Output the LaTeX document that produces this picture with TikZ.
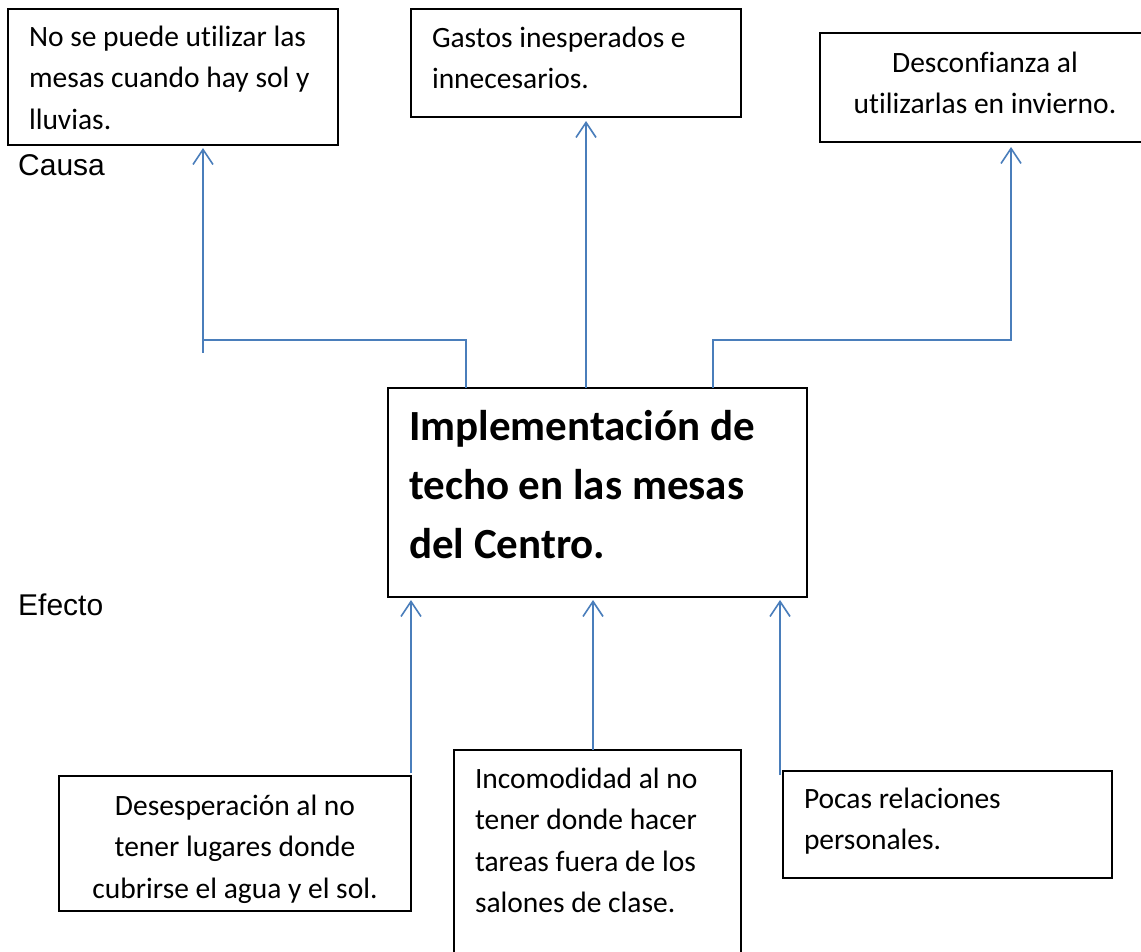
\documentclass[tikz,border=0pt]{standalone}
\usepackage{fontspec}
\setmainfont{Carlito}[Ligatures={NoCommon}]
\newfontfamily\arialfont{Liberation Sans}
\usetikzlibrary{arrows.meta,calc}
\definecolor{lineblue}{HTML}{4A7EBB}
\begin{document}
\begin{tikzpicture}[x=1pt,y=-1pt,
  box/.style={draw, line width=1.6pt, inner xsep=21pt, inner ysep=0pt, outer sep=0pt,
    font=\fontsize{29.5}{41.5}\selectfont},
  mainbox/.style={box, font=\fontsize{43}{59}\selectfont\bfseries},
  lbl/.style={font=\arialfont\fontsize{30}{36}\selectfont, inner sep=0pt, anchor=base west},
  conn/.style={draw=lineblue, line width=1.6pt},
  arr/.style={conn, -{Straight Barb[length=15pt,width=20pt,line width=1.6pt]}}]
\useasboundingbox[fill=white] (0,0) rectangle (1141,951);

% top (Causa) boxes
\node[box, anchor=north west, text width=288pt, align=flush left, text height=37pt, text depth=99pt] (A) at (8,9)
  {No se puede utilizar las\\ mesas cuando hay sol y\\ lluvias.};
\node[box, anchor=north west, text width=288pt, align=flush left, text height=38pt, text depth=70pt] (B) at (411,9)
  {Gastos inesperados e\\ innecesarios.};
\node[box, anchor=north west, text width=288pt, align=flush center, text height=39pt, text depth=70pt] (C) at (820,33)
  {Desconfianza al\\ utilizarlas en invierno.};

% central box
\node[mainbox, anchor=north west, text width=377pt, align=flush left, text height=52pt, text depth=157pt] (M) at (388,388)
  {Implementación de\\ techo en las mesas\\ del Centro.};

% bottom (Efecto) boxes
\node[box, anchor=north west, text width=310pt, align=flush center, text height=39pt, text depth=96pt] (D) at (59,776)
  {Desesperación al no\\ tener lugares donde\\ cubrirse el agua y el sol.};
\node[box, anchor=north west, text width=245pt, align=flush left, text height=38pt, text depth=187pt] (E) at (454,750)
  {Incomodidad al no\\ tener donde hacer\\ tareas fuera de los\\ salones de clase.};
\node[box, anchor=north west, text width=287pt, align=flush left, text height=37pt, text depth=70pt] (F) at (783,771)
  {Pocas relaciones\\ personales.};

% labels
\node[lbl] (causa) at (18,175) {Causa};
\node[lbl] (efecto) at (18,615) {Efecto};

% junction coordinates
\coordinate (jl) at ($(A.south west)+(195,195)$);
\coordinate (jr) at ($(C.south west)+(191,198)$);

% top connectors
\draw[conn] (jl) -- ++(0,13);
\draw[arr] ($(M.north west)+(78,0)$) |- (jl) -- ($(A.south west)+(195,3)$);
\draw[arr] ($(M.north west)+(198,0)$) -- ($(B.south west)+(175,4)$);
\draw[arr] ($(M.north west)+(325,0)$) |- (jr) -- ($(C.south west)+(191,5)$);

% bottom connectors
\draw[arr] ($(D.north east)+(0,-3)$) -- ($(M.south west)+(23,3)$);
\draw[arr] ($(E.north west)+(139,0)$) -- ($(M.south west)+(205,3)$);
\draw[arr] ($(F.north west)+(-3,4)$) -- ($(M.south west)+(392,3)$);
\end{tikzpicture}
\end{document}
